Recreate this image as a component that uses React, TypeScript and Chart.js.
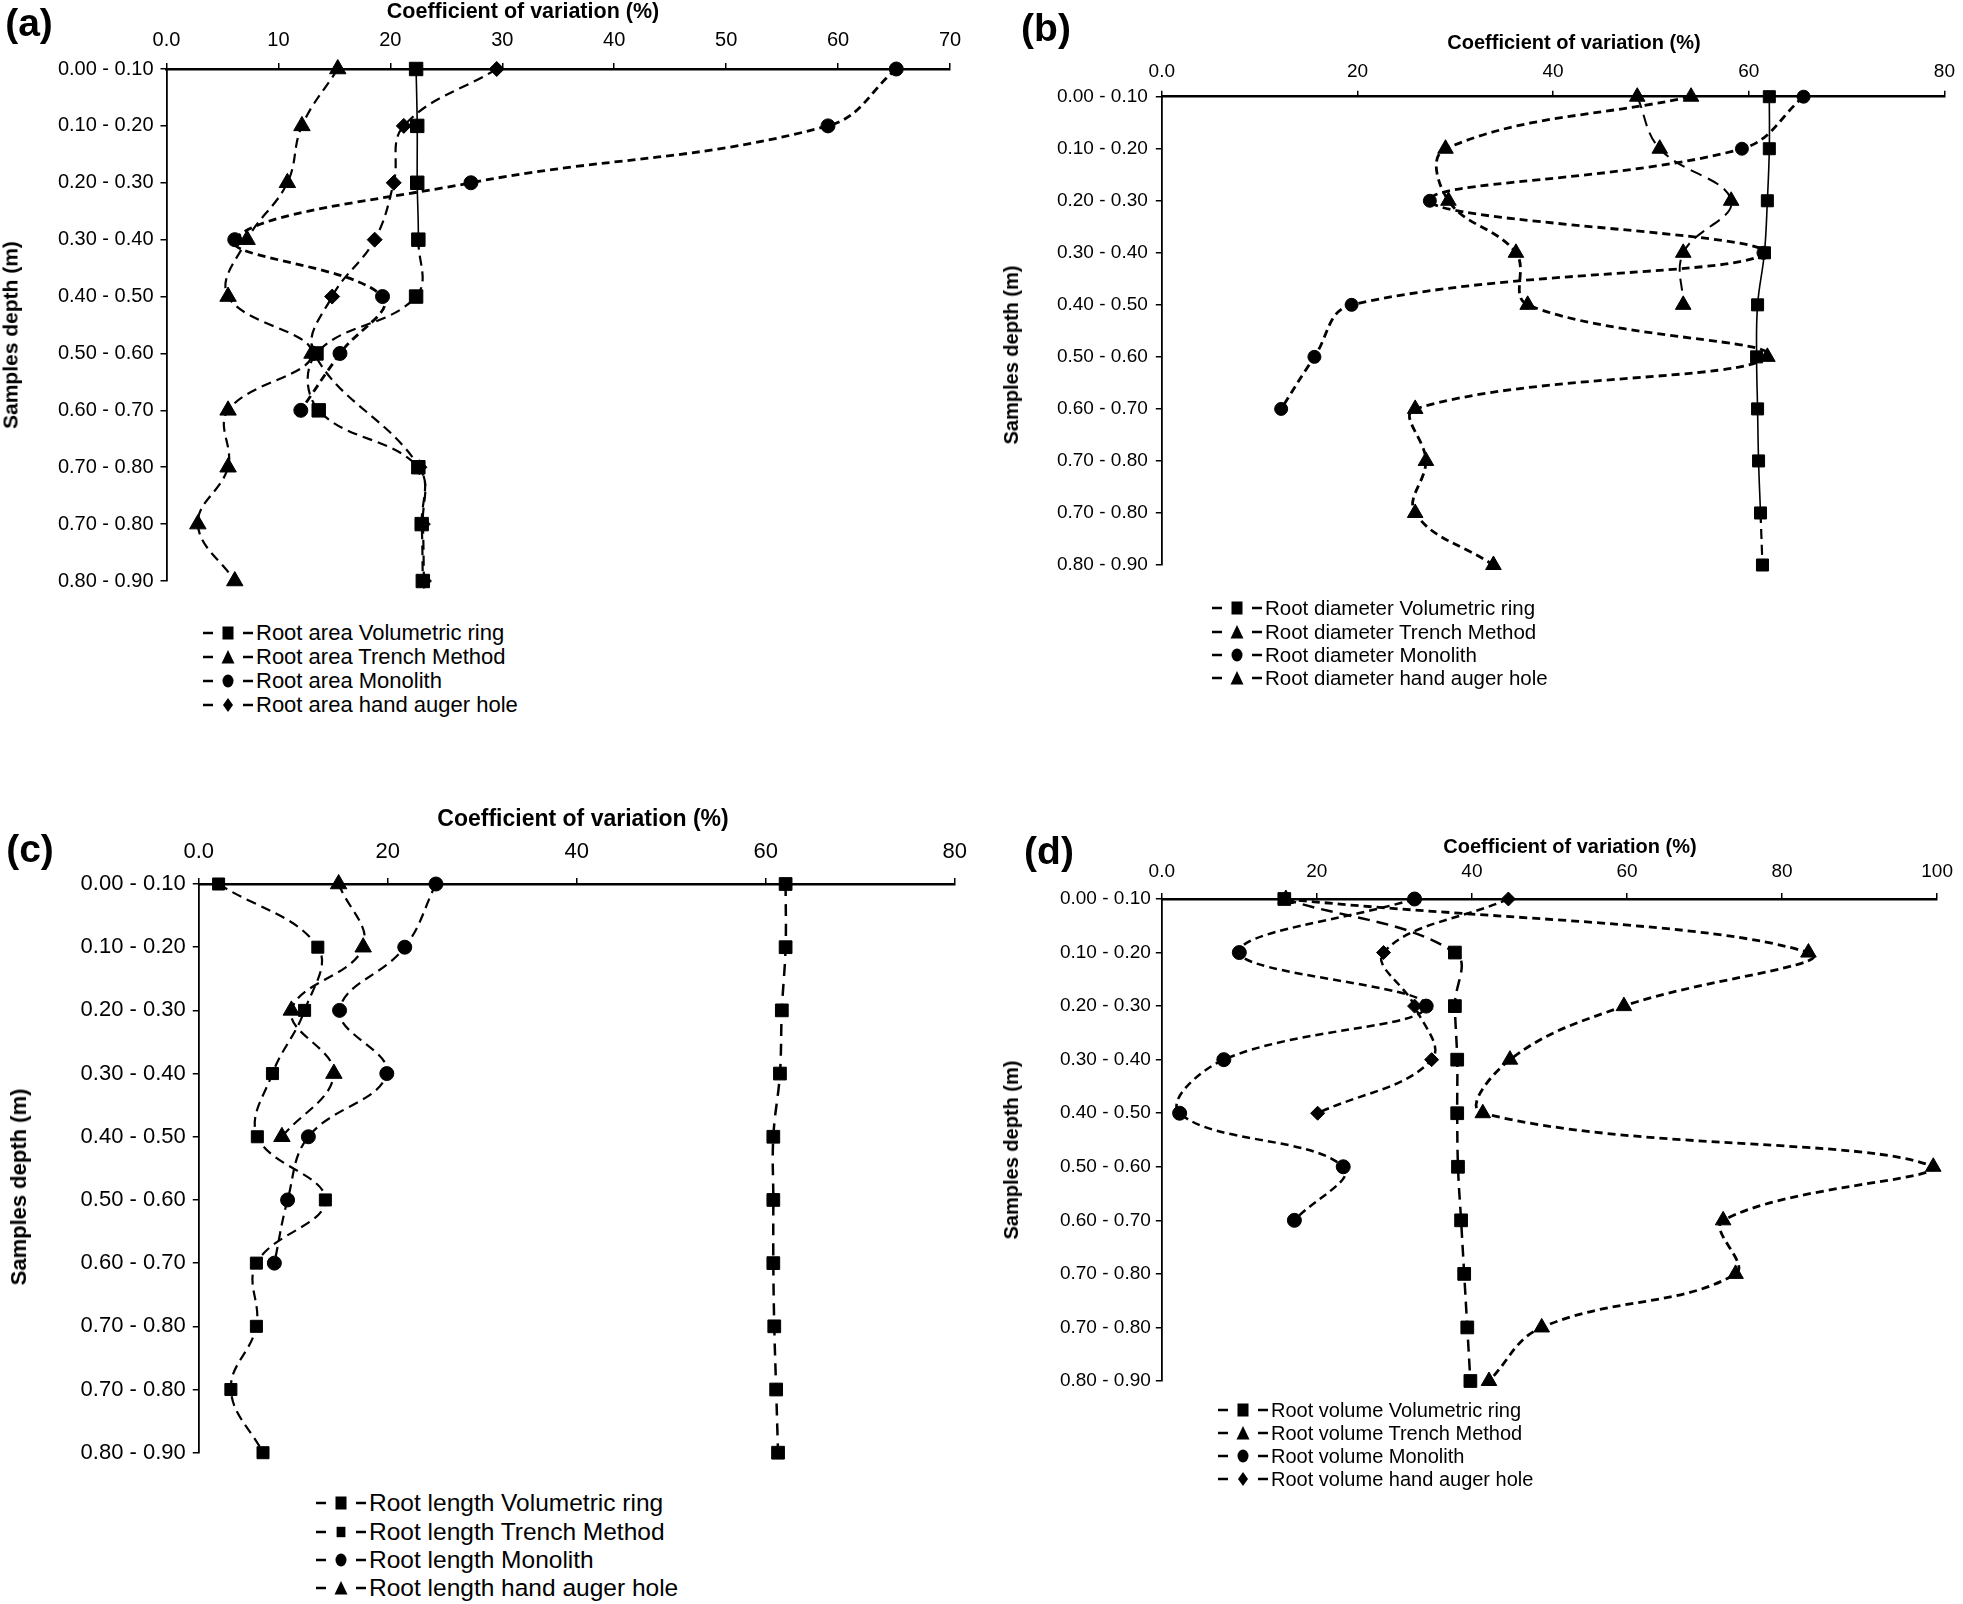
import React, { useEffect, useRef } from "react";
import { Chart, registerables } from "chart.js";

Chart.register(...registerables);

const FONT = '"Liberation Sans", Arial, Helvetica, sans-serif';

// ---------- DATA ----------
const depthLabels = [
  "0.00 - 0.10", "0.10 - 0.20", "0.20 - 0.30", "0.30 - 0.40", "0.40 - 0.50",
  "0.50 - 0.60", "0.60 - 0.70", "0.70 - 0.80", "0.70 - 0.80", "0.80 - 0.90",
];
const xTicks70 = ["0.0", "10", "20", "30", "40", "50", "60", "70"];
const xTicks80 = ["0.0", "20", "40", "60", "80"];
const xTicks100 = ["0.0", "20", "40", "60", "80", "100"];
const methodNames = ["Volumetric ring", "Trench Method", "Monolith", "hand auger hole"];

// (a) Root area
const aVolumetric = [22.3, 22.4, 22.4, 22.5, 22.3, 13.4, 13.6, 22.5, 22.8, 22.9];
const aTrench = [15.3, 12.1, 10.8, 7.2, 5.5, 13.0, 5.5, 5.5, 2.8, 6.1];
const aMonolith = [65.2, 59.1, 27.2, 6.1, 19.3, 15.5, 12.0, null, null, null];
const aAuger = [29.5, 21.2, 20.3, 18.6, 14.8, 13.2, null, 22.6, 22.9, 23.0];

// (b) Root diameter
const bVolumetric = [62.1, 62.1, 61.9, 61.6, 60.9, 60.8, 60.9, 61.0, 61.2, 61.4];
const bTrench = [54.1, 29.0, 29.3, 36.2, 37.4, 61.9, 25.9, 27.0, 25.9, 33.9];
const bMonolith = [65.6, 59.3, 27.4, 61.5, 19.4, 15.6, 12.2, null, null, null];
const bAuger = [48.6, 50.9, 58.2, 53.3, 53.3, null, null, null, null, null];

// (c) Root length
const cVolumetric = [62.1, 62.1, 61.7, 61.5, 60.8, 60.8, 60.8, 60.9, 61.1, 61.3];
const cTrench = [2.1, 12.6, 11.2, 7.8, 6.2, 13.4, 6.1, 6.1, 3.4, 6.8];
const cMonolith = [25.1, 21.8, 14.9, 19.9, 11.6, 9.4, 8.0, null, null, null];
const cAuger = [14.8, 17.4, 9.8, 14.3, 8.8, null, null, null, null, null];

// (d) Root volume
const dVolumetric = [15.8, 37.8, 37.8, 38.1, 38.1, 38.2, 38.6, 39.0, 39.4, 39.8];
const dTrench = [16.0, 83.4, 59.6, 44.9, 41.4, 99.5, 72.4, 74.0, 49.0, 42.2];
const dMonolith = [32.6, 10.0, 34.1, 8.0, 2.3, 23.4, 17.1, null, null, null];
const dAuger = [44.7, 28.6, 32.6, 34.8, 20.1, null, null, null, null, null];

// ---------- TYPES ----------
type Shape = "rect" | "triangle" | "circle" | "rectRot";
interface SeriesCfg {
  values: (number | null)[];
  shape: Shape;
  r: number;
  dash: number[];
  width: number;
  solidBefore?: number;
  legendSize?: number;
}
interface PanelCfg {
  id: string;
  canvas: { left: number; top: number; w: number; h: number };
  area: { l: number; t: number; r: number; b: number };
  xMax: number;
  xStep: number;
  xTicks: string[];
  tickFont: number;
  xPad: number;
  yPad: number;
  prefix: string;
  series: SeriesCfg[];
  xTitle: { x: number; y: number; size: number };
  yTitle: { x: number; y: number; size: number };
  tag: { x: number; y: number; size: number };
  legend: { x: number; ys: number[]; size: number };
}

const panels: PanelCfg[] = [
  {
    id: "(a)",
    canvas: { left: 0, top: 0, w: 980, h: 600 },
    area: { l: 166.5, t: 69, r: 950, b: 582 },
    xMax: 70, xStep: 10, xTicks: xTicks70, tickFont: 20, xPad: 11, yPad: 7,
    prefix: "Root area",
    series: [
      { values: aVolumetric, shape: "rect", r: 9.5, dash: [10, 6], width: 2.2, solidBefore: 3 },
      { values: aTrench, shape: "triangle", r: 9.5, dash: [10, 6], width: 2.2 },
      { values: aMonolith, shape: "circle", r: 7, dash: [8, 5], width: 2.8 },
      { values: aAuger, shape: "rectRot", r: 7.5, dash: [10, 6], width: 2.2 },
    ],
    xTitle: { x: 523, y: 12, size: 21.5 },
    yTitle: { x: 10, y: 335, size: 21 },
    tag: { x: 29, y: 22, size: 39 },
    legend: { x: 203, ys: [633, 657, 681, 705], size: 22 },
  },
  {
    id: "(b)",
    canvas: { left: 980, top: 0, w: 983, h: 600 },
    area: { l: 181.8, t: 96.7, r: 970, b: 565 },
    xMax: 80, xStep: 20, xTicks: xTicks80, tickFont: 19, xPad: 8, yPad: 8,
    prefix: "Root diameter",
    series: [
      { values: bVolumetric, shape: "rect", r: 8.5, dash: [10, 6], width: 2.2, solidBefore: 8 },
      { values: bTrench, shape: "triangle", r: 9, dash: [8, 5], width: 2.8 },
      { values: bMonolith, shape: "circle", r: 6.5, dash: [8, 5], width: 2.8 },
      { values: bAuger, shape: "triangle", r: 9, dash: [12, 7], width: 2 },
    ],
    xTitle: { x: 1574, y: 42, size: 20 },
    yTitle: { x: 1011, y: 355, size: 20 },
    tag: { x: 1046, y: 27, size: 39 },
    legend: { x: 1212, ys: [608, 632, 655, 678], size: 20.5 },
  },
  {
    id: "(c)",
    canvas: { left: 0, top: 800, w: 980, h: 680 },
    area: { l: 198.75, t: 84, r: 959.4, b: 652.7 },
    xMax: 80, xStep: 20, xTicks: xTicks80, tickFont: 22, xPad: 13, yPad: 7,
    prefix: "Root length",
    series: [
      { values: cVolumetric, shape: "rect", r: 9, dash: [12, 8], width: 2.5 },
      { values: cTrench, shape: "rect", r: 8.5, dash: [10, 6], width: 2.2, legendSize: 0.8 },
      { values: cMonolith, shape: "circle", r: 7, dash: [10, 6], width: 2.2 },
      { values: cAuger, shape: "triangle", r: 9.5, dash: [10, 6], width: 2.2 },
    ],
    xTitle: { x: 583, y: 818, size: 23 },
    yTitle: { x: 19, y: 1187, size: 22 },
    tag: { x: 30, y: 848, size: 39 },
    legend: { x: 316, ys: [1503, 1532, 1560, 1588], size: 24.5 },
  },
  {
    id: "(d)",
    canvas: { left: 980, top: 800, w: 983, h: 600 },
    area: { l: 181.8, t: 99, r: 965.5, b: 581 },
    xMax: 100, xStep: 20, xTicks: xTicks100, tickFont: 19, xPad: 10, yPad: 5,
    prefix: "Root volume",
    series: [
      { values: dVolumetric, shape: "rect", r: 9, dash: [12, 7], width: 2.5 },
      { values: dTrench, shape: "triangle", r: 9, dash: [8, 5], width: 2.8 },
      { values: dMonolith, shape: "circle", r: 7, dash: [8, 5], width: 2.5 },
      { values: dAuger, shape: "rectRot", r: 7, dash: [8, 5], width: 2.5 },
    ],
    xTitle: { x: 1570, y: 846, size: 20 },
    yTitle: { x: 1011, y: 1150, size: 20 },
    tag: { x: 1049, y: 850, size: 39 },
    legend: { x: 1218, ys: [1410, 1433, 1456, 1479], size: 20 },
  },
];

// ---------- COMPONENTS ----------
function PanelChart({ p }: { p: PanelCfg }) {
  const ref = useRef<HTMLCanvasElement>(null);
  useEffect(() => {
    const canvas = ref.current;
    if (!canvas) return;
    const chart = new Chart(canvas, {
      type: "scatter",
      data: {
        datasets: p.series.map((s, k) => ({
          label: `${p.prefix} ${methodNames[k]}`,
          data: s.values
            .map((v, i) => (v == null ? null : { x: v, y: i }))
            .filter((d) => d !== null) as { x: number; y: number }[],
          showLine: true,
          tension: 0.4,
          borderColor: "#000",
          backgroundColor: "#000",
          borderWidth: s.width,
          borderDash: s.dash,
          pointStyle: s.shape,
          pointRadius: s.r,
          pointBorderWidth: 1,
          pointBorderColor: "#000",
          pointBackgroundColor: "#000",
          clip: false,
          segment: s.solidBefore
            ? {
                borderDash: (c: any) => (c.p0DataIndex < (s.solidBefore as number) ? [] : s.dash),
                borderWidth: (c: any) => (c.p0DataIndex < (s.solidBefore as number) ? 1.6 : s.width),
              }
            : undefined,
        })),
      },
      options: {
        responsive: false,
        animation: false,
        events: [],
        layout: {
          padding: {
            left: 0,
            top: 0,
            right: p.canvas.w - p.area.r,
            bottom: p.canvas.h - p.area.b,
          },
        },
        plugins: { legend: { display: false }, tooltip: { enabled: false } },
        scales: {
          x: {
            type: "linear",
            position: "top",
            min: 0,
            max: p.xMax,
            ticks: {
              stepSize: p.xStep,
              autoSkip: false,
              padding: p.xPad,
              color: "#000",
              font: { family: FONT, size: p.tickFont },
              callback: (v: any) => p.xTicks[Math.round(Number(v) / p.xStep)] ?? "",
            },
            grid: { drawOnChartArea: false, drawTicks: true, tickLength: 6, color: "#000", lineWidth: 1.5 },
            border: { display: true, color: "#000", width: 2.5 },
            afterFit: (s: any) => {
              s.height = p.area.t;
            },
          },
          y: {
            type: "linear",
            reverse: true,
            min: 0,
            max: 9,
            ticks: {
              stepSize: 1,
              autoSkip: false,
              padding: p.yPad,
              color: "#000",
              font: { family: FONT, size: p.tickFont },
              callback: (v: any) => depthLabels[Math.round(Number(v))] ?? "",
            },
            grid: { drawOnChartArea: false, drawTicks: true, tickLength: 6, color: "#000", lineWidth: 1.5 },
            border: { display: true, color: "#000", width: 1.8 },
            afterFit: (s: any) => {
              s.width = p.area.l;
            },
          },
        },
      } as any,
    });
    return () => chart.destroy();
  }, [p]);
  return (
    <canvas
      ref={ref}
      width={p.canvas.w}
      height={p.canvas.h}
      style={{
        position: "absolute",
        left: p.canvas.left,
        top: p.canvas.top,
        width: p.canvas.w,
        height: p.canvas.h,
      }}
    />
  );
}

function Txt(props: {
  x: number; y: number; size: number; bold?: boolean; rotate?: boolean; children: React.ReactNode;
}) {
  return (
    <div
      style={{
        position: "absolute",
        left: props.x,
        top: props.y,
        transform: `translate(-50%, -50%)${props.rotate ? " rotate(-90deg)" : ""}`,
        fontSize: props.size,
        fontWeight: props.bold ? 700 : 400,
        lineHeight: 1,
        whiteSpace: "nowrap",
        fontFamily: FONT,
        color: "#000",
      }}
    >
      {props.children}
    </div>
  );
}

function Marker({ shape, scale }: { shape: Shape; scale: number }) {
  const cx = 25, cy = 10;
  const s = scale;
  if (shape === "rect")
    return <rect x={cx - 5.5 * s} y={cy - 6.5 * s} width={11 * s} height={13 * s} fill="#000" />;
  if (shape === "circle") return <ellipse cx={cx} cy={cy} rx={5.5 * s} ry={6.5 * s} fill="#000" />;
  if (shape === "triangle")
    return (
      <polygon
        points={`${cx},${cy - 7 * s} ${cx + 6.5 * s},${cy + 6.5 * s} ${cx - 6.5 * s},${cy + 6.5 * s}`}
        fill="#000"
      />
    );
  return (
    <polygon
      points={`${cx},${cy - 7 * s} ${cx + 5 * s},${cy} ${cx},${cy + 7 * s} ${cx - 5 * s},${cy}`}
      fill="#000"
    />
  );
}

function Legend({ p }: { p: PanelCfg }) {
  return (
    <>
      {p.series.map((s, k) => (
        <React.Fragment key={k}>
          <svg
            width={50}
            height={20}
            style={{ position: "absolute", left: p.legend.x, top: p.legend.ys[k] - 10 }}
          >
            <line x1={0} y1={10} x2={10} y2={10} stroke="#000" strokeWidth={2.5} />
            <line x1={40} y1={10} x2={50} y2={10} stroke="#000" strokeWidth={2.5} />
            <Marker shape={s.shape} scale={s.legendSize ?? 1} />
          </svg>
          <div
            style={{
              position: "absolute",
              left: p.legend.x + 53,
              top: p.legend.ys[k],
              transform: "translateY(-50%)",
              fontSize: p.legend.size,
              lineHeight: 1,
              whiteSpace: "nowrap",
              fontFamily: FONT,
              color: "#000",
            }}
          >
            {`${p.prefix} ${methodNames[k]}`}
          </div>
        </React.Fragment>
      ))}
    </>
  );
}

export default function App() {
  return (
    <div
      style={{
        position: "absolute",
        left: 0,
        top: 0,
        width: 1963,
        height: 1604,
        background: "#fff",
        overflow: "hidden",
      }}
    >
      {panels.map((p) => (
        <React.Fragment key={p.id}>
          <PanelChart p={p} />
          <Txt x={p.xTitle.x} y={p.xTitle.y} size={p.xTitle.size} bold>
            Coefficient of variation (%)
          </Txt>
          <Txt x={p.yTitle.x} y={p.yTitle.y} size={p.yTitle.size} bold rotate>
            Samples depth (m)
          </Txt>
          <Txt x={p.tag.x} y={p.tag.y} size={p.tag.size} bold>
            {p.id}
          </Txt>
          <Legend p={p} />
        </React.Fragment>
      ))}
    </div>
  );
}
